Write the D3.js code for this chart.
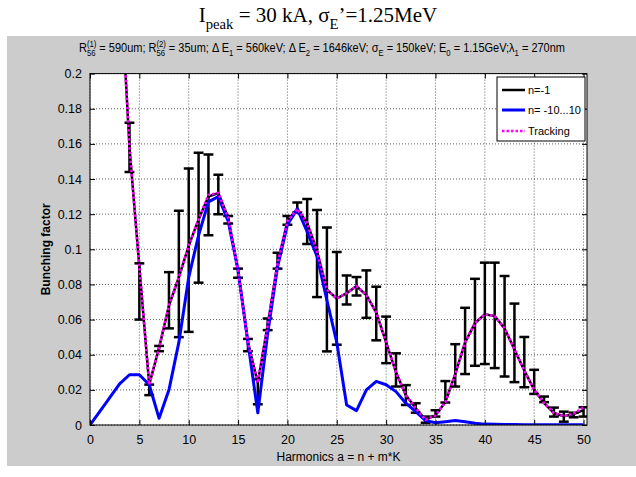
<!DOCTYPE html>
<html lang="en">
<head>
<meta charset="UTF-8">
<title>Bunching factor vs harmonics</title>
<style>
  body { margin: 0; padding: 0; background: #fff; overflow: hidden; }
  svg text { font-family: "Liberation Sans", Arial, sans-serif; white-space: pre; fill: #000; }
</style>
</head>
<body>
<svg id="chart" width="636" height="477"></svg>
<script src="https://d3js.org/d3.v7.min.js"></script>
<script>
// ---- data ----
const blueH = [0,1,2,3,4,5,6,7,8,9,10,11,12,13,14,15,16,17,18,19,20,21,22,23,24,25,
               26,27,28,29,30,31,32,33,34,35,36,37,38,39,40,41,42,43,44,45,46,47,48,49,50];
const blueVals = [0,0.0078,0.0156,0.0234,0.0286,0.0286,0.0229,0.0038,0.020,0.047,0.084,
                  0.108,0.127,0.130,0.116,0.088,0.047,0.007,0.052,0.090,0.114,0.123,0.110,
                  0.096,0.071,0.047,0.0114,0.0082,0.020,0.0248,0.0229,0.019,0.0124,0.0076,
                  0.0025,0.0013,0.0019,0.0025,0.0019,0.001,0.0005,0.0004,0.0003,0.0003,
                  0.0002,0.0002,0.0002,0.0001,0.0001,0.0001,0.0001];

const blackH = [3,4,5,6,7,8,9,10,11,12,13,14,15,16,17,18,19,20,21,22,23,24,25,26,27,
                28,29,30,31,32,33,34,35,36,37,38,39,40,41,42,43,44,45,46,47,48,49,50];
const blackVals = [0.263,0.158,0.090,0.023,0.044,0.068,0.084,0.102,0.117,0.130,0.132,
                   0.118,0.088,0.047,0.024,0.057,0.092,0.116,0.123,0.115,0.099,0.077,
                   0.072,0.075,0.079,0.074,0.064,0.047,0.030,0.017,0.0095,0.003,0.0055,
                   0.013,0.029,0.047,0.058,0.063,0.062,0.055,0.043,0.031,0.020,0.0125,
                   0.0068,0.005,0.0062,0.0085];

const trackVals = [0.263,0.158,0.090,0.023,0.044,0.068,0.084,0.102,0.117,0.131,0.132,
                   0.118,0.088,0.047,0.024,0.057,0.092,0.116,0.123,0.115,0.099,0.077,
                   0.072,0.075,0.079,0.074,0.064,0.047,0.030,0.017,0.0095,0.003,0.0055,
                   0.013,0.029,0.047,0.058,0.063,0.062,0.055,0.043,0.031,0.020,0.0125,
                   0.0068,0.005,0.0065,0.0100];

// error bars (n=-1), lower / upper
const errH = [4,5,6,7,8,9,10,11,12,13,14,15,16,17,18,19,20,21,22,23,24,25,26,27,28,
              29,30,31,32,33,34,35,36,37,38,39,40,41,42,43,44,45,46,47,48,49,50];
const errLow = [0.144,0.060,0.017,0.042,0.055,0.050,0.053,0.081,0.108,0.120,0.1147,
                0.0838,0.042,0.0118,0.054,0.089,0.114,0.121,0.103,0.0728,0.0419,0.0457,
                0.0686,0.0737,0.061,0.0482,0.0352,0.0219,0.0114,0.007,0.0013,0.0048,
                0.0128,0.0219,0.029,0.0337,0.0347,0.0324,0.0276,0.0244,0.0215,0.0177,
                0.013,0.0048,0.0019,0.0044,0.0048];
const errHigh = [0.172,0.092,0.023,0.045,0.087,0.122,0.146,0.155,0.154,0.1425,0.119,
                 0.089,0.049,0.026,0.0606,0.098,0.119,0.1267,0.1286,0.1223,0.1124,0.0985,
                 0.0851,0.0842,0.088,0.0787,0.0617,0.0408,0.0227,0.0124,0.0048,0.0084,
                 0.025,0.046,0.0667,0.0832,0.0924,0.0924,0.0848,0.0691,0.0501,0.0314,
                 0.0162,0.0099,0.0076,0.007,0.0101];

const xTicks = [0,5,10,15,20,25,30,35,40,45,50];
const yTicks = [0,0.02,0.04,0.06,0.08,0.1,0.12,0.14,0.16,0.18,0.2];
const legendLabels = ["n=-1", "n= -10...10", "Tracking"];

// ---- layout ----
const svg = d3.select("#chart");
const plot = { left: 90, right: 587, top: 73.6, bottom: 425 };

const x = d3.scaleLinear().domain([0, 50.35]).range([plot.left, plot.right]);
const y = d3.scaleLinear().domain([0, 0.2]).range([plot.bottom, plot.top]);

svg.append("rect").attr("width", 636).attr("height", 477).attr("fill", "#fff");
svg.append("rect").attr("x", 7).attr("y", 36).attr("width", 629).attr("height", 430)
    .attr("fill", "#cccccc");
svg.append("rect").attr("x", plot.left).attr("y", plot.top)
    .attr("width", plot.right - plot.left).attr("height", plot.bottom - plot.top)
    .attr("fill", "#fff");

svg.append("clipPath").attr("id", "clip").append("rect")
    .attr("x", plot.left).attr("y", plot.top)
    .attr("width", plot.right - plot.left).attr("height", plot.bottom - plot.top);

// dotted grid
const grid = svg.append("g").attr("stroke", "#333").attr("stroke-width", 0.8)
    .attr("stroke-dasharray", "1,2");
grid.selectAll(".gx").data(xTicks).enter().append("line")
    .attr("x1", d => x(d)).attr("x2", d => x(d))
    .attr("y1", plot.top).attr("y2", plot.bottom);
grid.selectAll(".gy").data(yTicks).enter().append("line")
    .attr("x1", plot.left).attr("x2", plot.right)
    .attr("y1", d => y(d)).attr("y2", d => y(d));

// ---- series ----
const marks = svg.append("g").attr("clip-path", "url(#clip)");
const line = d3.line().x(d => x(d[0])).y(d => y(d[1]));

// n=-1 with error bars
marks.append("path")
    .attr("d", line(blackH.map((h, i) => [h, blackVals[i]])))
    .attr("fill", "none").attr("stroke", "#000").attr("stroke-width", 2.5);

const tee = 0.5;
const bars = marks.append("g").attr("stroke", "#000").attr("stroke-width", 2.5);
errH.forEach((h, i) => {
    bars.append("line").attr("x1", x(h)).attr("x2", x(h))
        .attr("y1", y(errLow[i])).attr("y2", y(errHigh[i]));
    [errLow[i], errHigh[i]].forEach(v => {
        bars.append("line").attr("x1", x(h - tee)).attr("x2", x(h + tee))
            .attr("y1", y(v)).attr("y2", y(v));
    });
});

// n = -10...10
marks.append("path")
    .attr("d", line(blueH.map((h, i) => [h, blueVals[i]])))
    .attr("fill", "none").attr("stroke", "#0000ff").attr("stroke-width", 3)
    .attr("stroke-linejoin", "round");

// tracking
marks.append("path")
    .attr("d", line(blackH.map((h, i) => [h, trackVals[i]])))
    .attr("fill", "none").attr("stroke", "#ff00ff").attr("stroke-width", 2.6)
    .attr("stroke-dasharray", "2.5,2");

// ---- axes (MATLAB style box, inward ticks) ----
const fmt = d => d === 0 ? "0" : d3.format("~g")(d);
const axB = svg.append("g").attr("transform", `translate(0,${plot.bottom})`)
    .call(d3.axisBottom(x).tickValues(xTicks).tickSize(-5).tickPadding(10).tickFormat(fmt));
const axT = svg.append("g").attr("transform", `translate(0,${plot.top})`)
    .call(d3.axisTop(x).tickValues(xTicks).tickSize(-5).tickFormat(""));
const axL = svg.append("g").attr("transform", `translate(${plot.left},0)`)
    .call(d3.axisLeft(y).tickValues(yTicks).tickSize(-5).tickPadding(8).tickFormat(fmt));
const axR = svg.append("g").attr("transform", `translate(${plot.right},0)`)
    .call(d3.axisRight(y).tickValues(yTicks).tickSize(-5).tickFormat(""));
[axB, axT, axL, axR].forEach(a => {
    a.select(".domain").remove();
    a.selectAll("line").attr("stroke", "#000");
    a.selectAll("text").style("font-size", "12.5px").style("font-family", "Liberation Sans, Arial, sans-serif");
});
svg.append("rect").attr("x", plot.left).attr("y", plot.top)
    .attr("width", plot.right - plot.left).attr("height", plot.bottom - plot.top)
    .attr("fill", "none").attr("stroke", "#000").attr("stroke-width", 1);

// axis labels
svg.append("text").attr("x", (plot.left + plot.right) / 2).attr("y", 461)
    .attr("text-anchor", "middle").style("font-size", "12px")
    .text("Harmonics a = n + m*K");
svg.append("text").attr("transform", `translate(50,${(plot.top + plot.bottom) / 2}) rotate(-90)`)
    .attr("text-anchor", "middle").style("font-size", "12px").style("font-weight", "bold")
    .text("Bunching factor");

// ---- legend ----
const leg = svg.append("g");
leg.append("rect").attr("x", 497).attr("y", 77).attr("width", 88).attr("height", 64)
    .attr("fill", "#fff").attr("stroke", "#000").attr("stroke-width", 1);
const legStyles = [
    { color: "#000", width: 2.5, dash: null },
    { color: "#0000ff", width: 3, dash: null },
    { color: "#ff00ff", width: 2.6, dash: "2.5,2" }
];
const legY = [90, 110, 131];
legendLabels.forEach((lab, i) => {
    leg.append("line").attr("x1", 502).attr("x2", 525)
        .attr("y1", legY[i]).attr("y2", legY[i])
        .attr("stroke", legStyles[i].color).attr("stroke-width", legStyles[i].width)
        .attr("stroke-dasharray", legStyles[i].dash);
    leg.append("text").attr("x", 528).attr("y", legY[i] + 4)
        .style("font-size", "11px").text(lab);
});

// ---- titles with sub/superscripts ----
function richText(g, pieces, size, family) {
    let cx = 0;
    pieces.forEach(p => {
        if (typeof p === "string") {
            const t = g.append("text").attr("x", cx).attr("y", 0)
                .style("font-size", size + "px").style("font-family", family).text(p);
            cx += t.node().getComputedTextLength();
        } else {
            let w = 0;
            if (p.sup) {
                const t = g.append("text").attr("x", cx).attr("y", -size * 0.42)
                    .style("font-size", size * 0.7 + "px").style("font-family", family).text(p.sup);
                w = Math.max(w, t.node().getComputedTextLength());
            }
            if (p.sub) {
                const t = g.append("text").attr("x", cx).attr("y", size * 0.32)
                    .style("font-size", size * 0.7 + "px").style("font-family", family).text(p.sub);
                w = Math.max(w, t.node().getComputedTextLength());
            }
            cx += w;
        }
    });
    return cx;
}

const titleG = svg.append("g");
const tw = richText(titleG, ["I", { sub: "peak" }, " = 30 kA, σ", { sub: "E" }, "\u2019=1.25MeV"],
    21, "Liberation Serif, Times New Roman, serif");
titleG.attr("transform", `translate(${318 - tw / 2},22)`);

const subG = svg.append("g");
const sw = richText(subG, [
    "R", { sup: "(1)", sub: "56" }, " = 590um; R", { sup: "(2)", sub: "56" },
    " = 35um; \u0394 E", { sub: "1" }, " = 560keV; \u0394 E", { sub: "2" },
    " = 1646keV; σ", { sub: "E" }, " = 150keV; E", { sub: "0" },
    " = 1.15GeV;λ", { sub: "1" }, " = 270nm"
], 12, "Liberation Sans, Arial, sans-serif");
const sTarget = 486;
subG.attr("transform", `translate(${322 - sTarget / 2},52) scale(${sTarget / sw},1)`);
</script>
</body>
</html>
